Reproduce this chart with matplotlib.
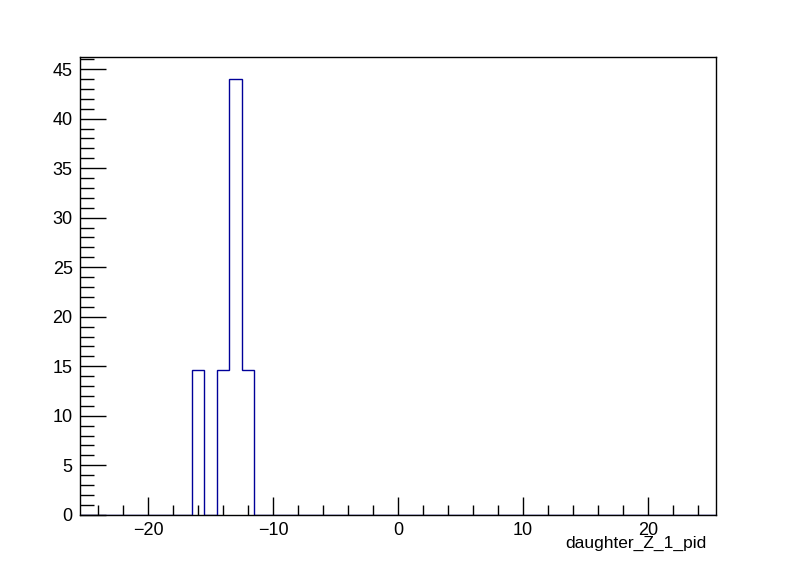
import matplotlib
matplotlib.use("Agg")
import matplotlib.pyplot as plt
import numpy as np
from matplotlib.ticker import MultipleLocator

plt.rcParams['font.family'] = ['Liberation Sans', 'DejaVu Sans']

bin_centers = list(range(-25, 26))
counts = {-16: 14.667, -14: 14.667, -13: 44.0, -12: 14.667}
values = [counts.get(c, 0.0) for c in bin_centers]
x_label = "daughter_Z_1_pid"

edges = np.arange(-25.5, 26.0, 1.0)

fig = plt.figure(figsize=(7.96, 5.72), dpi=100)
ax = fig.add_axes([0.1, 0.1, 0.8, 0.8])
ax.stairs(values, edges, color='#000099', linewidth=1.0)
ax.set_xlim(-25.5, 25.5)
ax.set_ylim(0, max(values) * 1.05)

ax.xaxis.set_major_locator(MultipleLocator(10))
ax.xaxis.set_minor_locator(MultipleLocator(2))
ax.yaxis.set_major_locator(MultipleLocator(5))
ax.yaxis.set_minor_locator(MultipleLocator(1))
ax.tick_params(axis='both', which='both', direction='in', top=False, right=False, labelsize=13, width=1, pad=5)
ax.tick_params(axis='x', which='major', length=13)
ax.tick_params(axis='x', which='minor', length=7)
ax.tick_params(axis='y', which='major', length=19)
ax.tick_params(axis='y', which='minor', length=10)
for s in ax.spines.values():
    s.set_linewidth(1)

fig.text(706/796, (572-548)/572, x_label, ha='right', va='baseline', fontsize=12.5)

fig.savefig('out.png', dpi=100)
